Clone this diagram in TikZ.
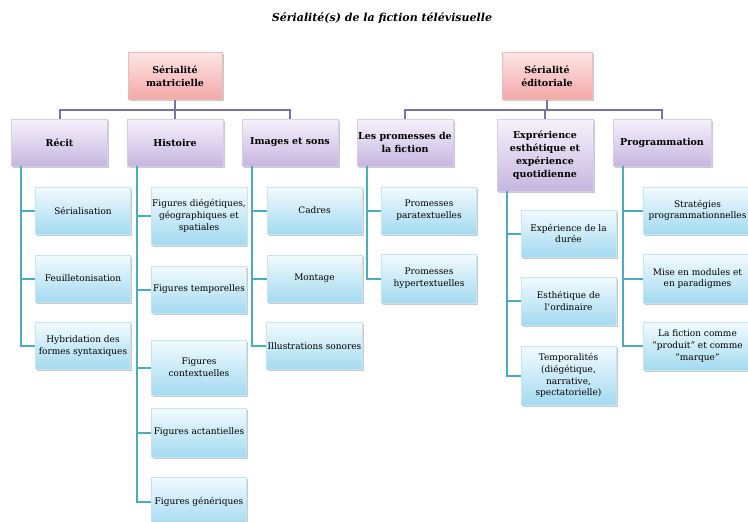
\documentclass[tikz,border=0pt]{standalone}
\usepackage{fontspec}
\setmainfont{DejaVu Serif}
\usetikzlibrary{shadows}

\definecolor{roseHaut}{HTML}{FCE6E6}
\definecolor{roseBas}{HTML}{F2A7A6}
\definecolor{roseBord}{HTML}{E9BDBC}
\definecolor{mauveHaut}{HTML}{F6F2FB}
\definecolor{mauveBas}{HTML}{C6B6E0}
\definecolor{mauveBord}{HTML}{D8CCE8}
\definecolor{cyanHaut}{HTML}{F2FBFE}
\definecolor{cyanBas}{HTML}{A3DAF0}
\definecolor{cyanBord}{HTML}{C4E6F2}
\definecolor{traitBus}{HTML}{7F72A0}
\definecolor{traitBranche}{HTML}{4BACC0}

\tikzset{
  boite/.style={rectangle, draw=#1, line width=0.6pt, align=center, inner sep=1pt,
    drop shadow={shadow xshift=1.5pt, shadow yshift=-1.5pt, opacity=0.35, fill=black!60}},
  racine/.style={boite=roseBord, top color=roseHaut, bottom color=roseBas,
    font=\bfseries\fontsize{9.5}{13}\selectfont, minimum width=94pt, minimum height=47pt},
  theme/.style={boite=mauveBord, top color=mauveHaut, bottom color=mauveBas,
    font=\bfseries\fontsize{9.5}{13}\selectfont, minimum width=96pt, minimum height=47pt},
  feuille/.style={boite=cyanBord, top color=cyanHaut, bottom color=cyanBas,
    font=\fontsize{9}{11.7}\selectfont, minimum width=95pt, minimum height=47pt},
  bus/.style={draw=traitBus, line width=2pt},
  branche/.style={draw=traitBranche, line width=2pt}
}

\begin{document}
\begin{tikzpicture}[x=1pt, y=-1pt]
  \useasboundingbox (0,0) rectangle (748,522);
  \clip (0,0) rectangle (748,522);

  % titre
  \node[font=\bfseries\itshape\fontsize{11}{13}\selectfont] (titre) at (382,18) {Sérialité(s) de la fiction télévisuelle};

  % racines
  \node[racine] (matricielle) at (175,76) {Sérialité\\matricielle};
  \node[racine, minimum width=90pt] (editoriale) at (547,76) {Sérialité\\éditoriale};

  % themes
  \node[theme] (recit) at (59.5,142.5) {Récit};
  \node[theme] (histoire) at (175,142.5) {Histoire};
  \node[theme] (images) at (290,142.5) {Images et sons};
  \node[theme] (promesses) at (405,142.5) {Les promesses de\\la fiction};
  \node[theme, minimum height=72pt] (experience) at (545,155) {Exprérience\\esthétique et\\expérience\\quotidienne};
  \node[theme, minimum width=98pt] (programmation) at (662,142.5) {Programmation};

  % Récit
  \node[feuille] (serialisation) at (83,210.5) {Sérialisation};
  \node[feuille] (feuilleton) at (83,278.5) {Feuilletonisation};
  \node[feuille] (hybridation) at (83,346) {Hybridation des\\formes syntaxiques};

  % Histoire
  \node[feuille, minimum height=58pt] (diegetiques) at (199,216) {Figures diégétiques,\\géographiques et\\spatiales};
  \node[feuille] (temporelles) at (199,289.5) {Figures temporelles};
  \node[feuille, minimum height=55pt] (contextuelles) at (199,367.5) {Figures\\contextuelles};
  \node[feuille, minimum height=49pt] (actantielles) at (199,432.5) {Figures actantielles};
  \node[feuille, minimum height=49pt] (generiques) at (199,501.5) {Figures génériques};

  % Images et sons
  \node[feuille] (cadres) at (314.5,210.5) {Cadres};
  \node[feuille] (montage) at (314.5,278.5) {Montage};
  \node[feuille] (sonores) at (314.5,346) {Illustrations sonores};

  % promesses
  \node[feuille] (paratextuelles) at (429,210.5) {Promesses\\paratextuelles};
  \node[feuille, minimum height=49pt] (hypertextuelles) at (429,278.5) {Promesses\\hypertextuelles};

  % experience
  \node[feuille] (duree) at (568.5,233.5) {Expérience de la\\durée};
  \node[feuille, minimum height=48pt] (ordinaire) at (568.5,301) {Esthétique de\\l'ordinaire};
  \node[feuille, minimum height=59pt] (temporalites) at (568.5,375.5) {Temporalités\\(diégétique,\\narrative,\\spectatorielle)};

  % programmation
  \node[feuille, minimum width=109pt] (strategies) at (697.5,210.5) {Stratégies\\programmationnelles};
  \node[feuille, minimum width=109pt, minimum height=49pt] (modules) at (697.5,278.5) {Mise en modules et\\en paradigmes};
  \node[feuille, minimum width=109pt, minimum height=48pt] (produit) at (697.5,346) {La fiction comme\\"produit" et comme\\"marque"};

  % liaisons racines -> themes
  \foreach \t in {recit, histoire, images}
    \draw[bus] (matricielle.south) -- ++(0,10) -| (\t.north);
  \foreach \t in {promesses, experience, programmation}
    \draw[bus] (editoriale.south) -- ++(0,10) -| (\t.north);

  % liaisons themes -> feuilles
  \foreach \t/\f in {recit/serialisation, recit/feuilleton, recit/hybridation,
      histoire/diegetiques, histoire/temporelles, histoire/contextuelles, histoire/actantielles, histoire/generiques,
      images/cadres, images/montage, images/sonores,
      promesses/paratextuelles, promesses/hypertextuelles,
      experience/duree, experience/ordinaire, experience/temporalites,
      programmation/strategies, programmation/modules, programmation/produit}
    \draw[branche] ([xshift=10pt]\t.south west) |- (\f.west);
\end{tikzpicture}
\end{document}
